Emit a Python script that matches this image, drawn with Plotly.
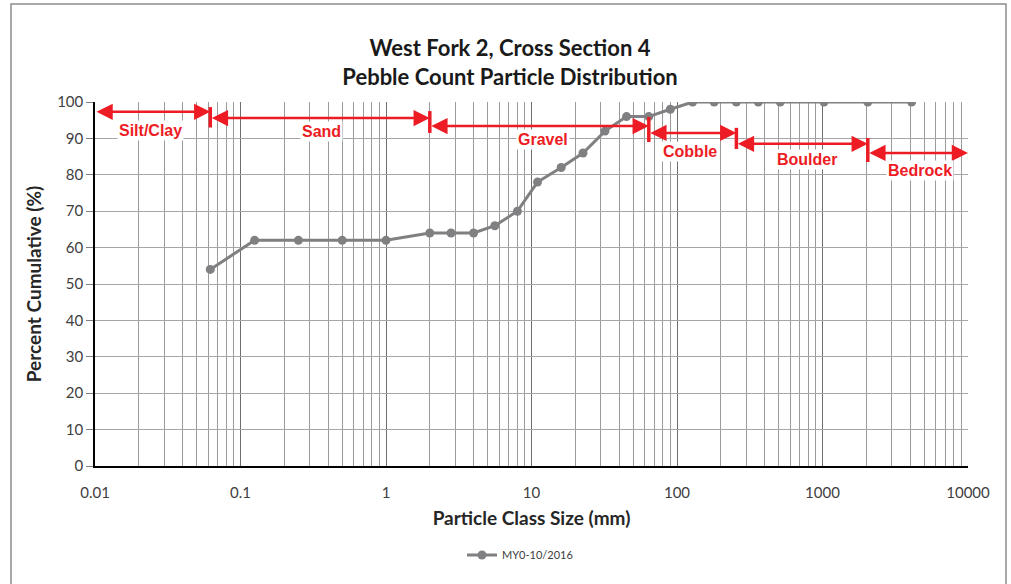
import math
import plotly.graph_objects as go

# ---- data ----
sizes_mm = [0.062, 0.125, 0.25, 0.5, 1, 2, 2.8, 4, 5.6, 8, 11, 16, 22.6, 32, 45, 64, 90,
            128, 180, 256, 362, 512, 1024, 2048, 4096]
pct_cum = [54, 62, 62, 62, 62, 64, 64, 64, 66, 70, 78, 82, 86, 92, 96, 96, 98,
           100, 100, 100, 100, 100, 100, 100, 100]
series_name = "MY0-10/2016"

class_names = ["Silt/Clay", "Sand", "Gravel", "Cobble", "Boulder", "Bedrock"]
class_lo = [0.01, 0.062, 2, 64, 256, 2048]
class_hi = [0.062, 2, 64, 256, 2048, 10000]
arrow_y = [97.3, 95.6, 93.4, 91.5, 88.5, 86.0]
label_x = [0.0239, 0.363, 12.0, 123, 782, 4680]
label_y = [92.3, 92.0, 89.6, 86.3, 84.1, 81.3]
boundary_x = [0.062, 2, 64, 256, 2048]
boundary_y0 = [93.0, 91.5, 89.0, 87.1, 83.5]
boundary_y1 = [98.6, 97.5, 95.9, 92.9, 90.1]

x_tickvals = [0.01, 0.1, 1, 10, 100, 1000, 10000]
x_ticktext = ["0.01", "0.1", "1", "10", "100", "1000", "10000"]

RED = "#ED1C24"
GRAY = "#808083"
FONT = "Lato"

fig = go.Figure()
fig.add_trace(go.Scatter(
    x=sizes_mm, y=pct_cum, mode="lines+markers", name=series_name,
    line=dict(color=GRAY, width=3),
    marker=dict(color=GRAY, size=9),
))

annotations = []
for n, lo, hi, ay, lx, ly in zip(class_names, class_lo, class_hi, arrow_y, label_x, label_y):
    annotations.append(dict(
        x=math.log10(hi), y=ay, ax=math.log10(lo), ay=ay,
        xref="x", yref="y", axref="x", ayref="y",
        showarrow=True, arrowside="end+start", arrowhead=2, startarrowhead=2,
        arrowsize=1.3, startarrowsize=1.3, arrowwidth=2.5, arrowcolor=RED,
        standoff=0, startstandoff=0, text="",
    ))
    annotations.append(dict(
        x=math.log10(lx), y=ly, xref="x", yref="y", text="<b>%s</b>" % n,
        showarrow=False, bgcolor="white",
        font=dict(family="Liberation Sans, Arial", size=16, color=RED),
    ))

shapes = []
for bx, y0, y1 in zip(boundary_x, boundary_y0, boundary_y1):
    shapes.append(dict(type="line", xref="x", yref="y", x0=bx, x1=bx, y0=y0, y1=y1,
                       line=dict(color=RED, width=3.5)))
# outer frame
shapes.append(dict(type="rect", xref="paper", yref="paper",
                   x0=(11 - 95) / 873, x1=(1006 - 95) / 873,
                   y0=-0.5, y1=(466 - 4) / 364,
                   line=dict(color="#8C8C8C", width=1.5), fillcolor="rgba(0,0,0,0)", layer="below"))

fig.update_layout(
    width=1011, height=584,
    margin=dict(l=95, r=43, t=102, b=118),
    paper_bgcolor="white", plot_bgcolor="white",
    title=dict(text="<b>West Fork 2, Cross Section 4<br>Pebble Count Particle Distribution</b>",
               x=510 / 1011, xanchor="center", y=1 - 56 / 584, yanchor="middle",
               font=dict(family=FONT, size=22, color="#1A1A1A", weight=900)),
    font=dict(family=FONT, color="#404040"),
    showlegend=True,
    legend=dict(orientation="h", x=(520 - 95) / 873, xanchor="center", y=-(555 - 466) / 364,
                yanchor="middle", font=dict(family=FONT, size=11, color="#404040")),
    annotations=annotations,
    shapes=shapes,
)
fig.update_xaxes(
    type="log", range=[-2, 4],
    tickvals=x_tickvals, ticktext=x_ticktext,
    tickfont=dict(size=15, color="#404040"),
    ticks="outside", ticklen=12, tickcolor="rgba(0,0,0,0)",
    showgrid=True, gridcolor="#6E6E6E", gridwidth=1,
    minor=dict(dtick="D1", showgrid=True, gridcolor="#9A9A9A", gridwidth=1, ticks=""),
    showline=True, linecolor="#000000", linewidth=1.5, mirror=False,
    zeroline=False,
    title=dict(text="<b>Particle Class Size (mm)</b>", font=dict(family=FONT, size=19, color="#262626"),
               standoff=12),
)
fig.update_yaxes(
    range=[0, 100], dtick=10, tick0=0,
    tickfont=dict(size=15, color="#404040"),
    ticks="outside", ticklen=7, tickcolor="#808080",
    showgrid=True, gridcolor="#A6A6A6", gridwidth=1,
    showline=True, linecolor="#000000", linewidth=1.5,
    zeroline=False,
    title=dict(text="<b>Percent Cumulative (%)</b>", font=dict(family=FONT, size=19, color="#262626"),
               standoff=10),
)

fig.write_html("out.html")
